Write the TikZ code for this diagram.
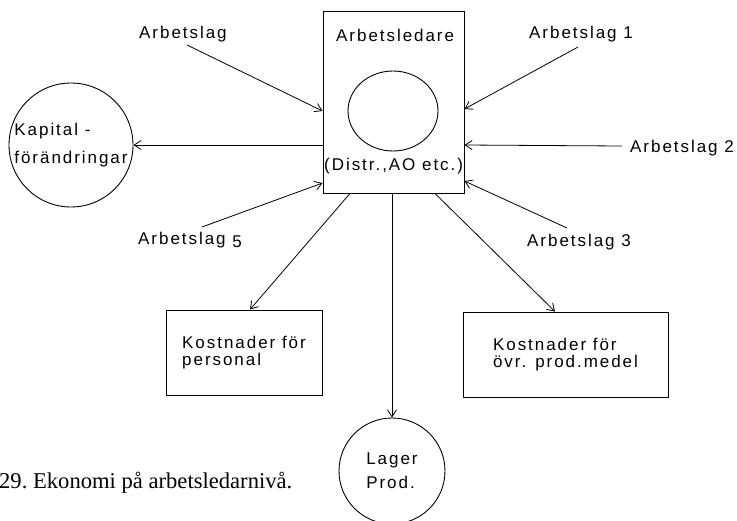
\documentclass[tikz,border=0pt]{standalone}
\usepackage{fontspec}
\setmainfont{Liberation Serif}
\newfontfamily\diafont[LetterSpace=11.5]{Liberation Sans}
\usetikzlibrary{arrows.meta,shapes.geometric}

\newcommand\diasize{\diafont\fontsize{17}{16.5}\selectfont}

\tikzset{
  txt/.style={font=\diasize, inner sep=0pt},
  frame/.style={draw, line width=0.9pt, rectangle, inner sep=0pt},
  ring/.style={draw, line width=0.9pt, circle, inner sep=0pt, align=left, font=\diasize},
  costbox/.style={frame, align=left, minimum height=85pt, font=\diasize},
  arr/.style={draw, line width=0.8pt, -{Straight Barb[length=7pt,width=9pt]}}
}

\begin{document}
\begin{tikzpicture}[x=1pt, y=-1pt]
\useasboundingbox (0,0) rectangle (737,520);
\fill[white] (0,0) rectangle (737,520);

% central box: the work leader
\node[frame, minimum width=141pt, minimum height=182pt] (led) at (393.5,102) {};
\node[txt, anchor=base west] (ledtitle) at (336,41) {Arbetsledare};
\node[draw, line width=0.9pt, ellipse, minimum width=90pt, minimum height=80pt, inner sep=0pt] (core) at (393,111) {};
\node[txt, anchor=base west] (distr) at (324,170) {(Distr.,AO etc.)};

% work teams
\node[txt, anchor=base west] (l0) at (139,38) {Arbetslag};
\node[txt, anchor=base west] (l1) at (529,38) {Arbetslag 1};
\node[txt, anchor=base west] (l2) at (630,152) {Arbetslag 2};
\node[txt, anchor=base west] (l3) at (527,246) {Arbetslag 3};
\node[txt, anchor=base west] (l5) at (138,244) {Arbetslag \raisebox{-3pt}{5}};

% outcomes
\node[ring, minimum size=124pt] (kap) at (71,145) {Kapital -\\[11.5pt]förändringar};
\node[ring, minimum size=106pt] (lager) at (392,471) {Lager\\[7.5pt]Prod.};
\node[costbox, minimum width=156pt] (pers) at (244,352.5) {Kostnader för\\personal};
\node[costbox, minimum width=205pt] (ovr) at (565.5,354.5) {Kostnader för\\övr. prod.medel};

% loose ends of the incoming lines
\coordinate (s0) at (187,45);
\coordinate (s1) at (578,47);
\coordinate (s2) at (622,146);
\coordinate (s3) at (567,228);
\coordinate (s5) at (202,227);

% incoming reports
\draw[arr] (s0) -- (led.west |- 0,111);
\draw[arr] (s5) -- (led.west |- 0,183);
\draw[arr] (s1) -- (led.east |- 0,109);
\draw[arr] (s2) -- (led.east |- 0,145);
\draw[arr] (s3) -- (led.east |- 0,181);

% outgoing flows
\draw[arr] (led.west |- kap.east) -- (kap.east);
\draw[arr] (led.south -| 350,0) -- (pers.north -| 250,0);
\draw[arr] (led.south -| lager.north) -- (lager.north);
\draw[arr] (led.south -| 435,0) -- (ovr.north -| 555,0);

% caption
\node[font=\fontsize{22.6}{25}\selectfont, inner sep=0pt, anchor=base west] (cap) at (-1,488) {29.\ Ekonomi på arbetsledarnivå.};
\end{tikzpicture}
\end{document}
